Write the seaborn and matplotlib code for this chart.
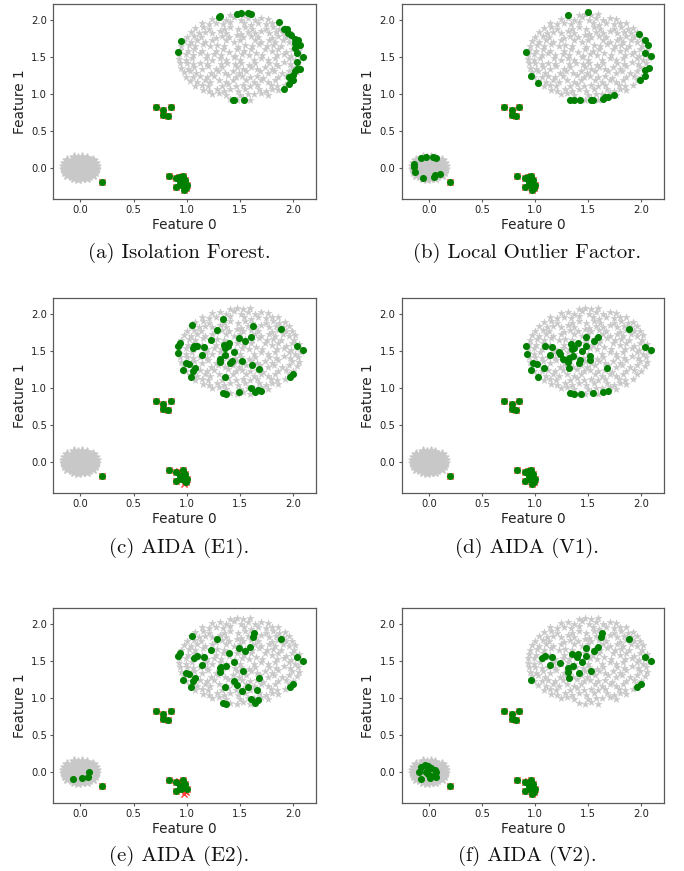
import numpy as np
import pandas as pd
import matplotlib
matplotlib.use("Agg")
import matplotlib.pyplot as plt
import seaborn as sns

# ---------------- data ----------------
# large inlier cluster (grey stars)
grey_big = [
    (1.41, 0.93), (1.47, 0.92), (1.53, 0.94), (1.59, 0.92),
    (1.24, 0.99), (1.30, 1.01), (1.37, 0.98), (1.50, 0.98), (1.57, 1.00), (1.63, 0.99), (1.70, 1.01), (1.76, 0.98),
    (1.15, 1.05), (1.21, 1.03), (1.28, 1.06), (1.35, 1.04), (1.41, 1.06), (1.48, 1.04), (1.55, 1.07), (1.68, 1.06), (1.74, 1.04), (1.80, 1.06), (1.86, 1.05),
    (1.08, 1.11), (1.14, 1.12), (1.20, 1.10), (1.33, 1.10), (1.39, 1.13), (1.46, 1.10), (1.53, 1.12), (1.59, 1.10), (1.66, 1.12), (1.79, 1.12), (1.85, 1.10), (1.92, 1.12),
    (1.03, 1.17), (1.10, 1.16), (1.17, 1.18), (1.22, 1.16), (1.30, 1.18), (1.37, 1.16), (1.43, 1.19), (1.56, 1.18), (1.63, 1.16), (1.70, 1.18), (1.76, 1.16), (1.83, 1.18), (1.96, 1.18),
    (0.99, 1.23), (1.06, 1.22), (1.12, 1.24), (1.19, 1.22), (1.26, 1.24), (1.39, 1.25), (1.46, 1.22), (1.52, 1.24), (1.59, 1.22), (1.66, 1.24), (1.72, 1.21), (1.86, 1.22), (1.93, 1.24), (2.00, 1.23),
    (0.97, 1.29), (1.03, 1.30), (1.09, 1.28), (1.23, 1.28), (1.29, 1.31), (1.36, 1.28), (1.43, 1.30), (1.49, 1.28), (1.56, 1.30), (1.69, 1.31), (1.76, 1.28), (1.82, 1.30), (1.89, 1.28), (1.96, 1.30), (2.03, 1.29),
    (0.95, 1.35), (1.01, 1.34), (1.07, 1.36), (1.14, 1.34), (1.20, 1.37), (1.27, 1.34), (1.33, 1.36), (1.47, 1.36), (1.53, 1.33), (1.60, 1.36), (1.66, 1.34), (1.73, 1.36), (1.80, 1.34), (1.86, 1.37), (1.99, 1.36), (2.05, 1.35),
    (0.94, 1.41), (1.00, 1.42), (1.06, 1.40), (1.12, 1.42), (1.19, 1.40), (1.32, 1.40), (1.38, 1.42), (1.45, 1.40), (1.51, 1.42), (1.58, 1.39), (1.64, 1.42), (1.77, 1.42), (1.84, 1.40), (1.91, 1.43), (1.97, 1.40), (2.04, 1.42),
    (0.93, 1.47), (0.99, 1.46), (1.05, 1.48), (1.18, 1.48), (1.24, 1.45), (1.31, 1.48), (1.37, 1.46), (1.44, 1.49), (1.50, 1.46), (1.63, 1.46), (1.70, 1.48), (1.76, 1.45), (1.83, 1.48), (1.96, 1.48), (2.02, 1.46), (2.07, 1.48),
    (0.93, 1.53), (0.99, 1.54), (1.06, 1.52), (1.12, 1.55), (1.19, 1.52), (1.26, 1.54), (1.32, 1.52), (1.45, 1.51), (1.52, 1.54), (1.58, 1.52), (1.65, 1.55), (1.71, 1.52), (1.85, 1.52), (1.91, 1.54), (1.98, 1.51), (2.04, 1.54),
    (0.94, 1.59), (1.01, 1.58), (1.07, 1.60), (1.14, 1.58), (1.27, 1.58), (1.34, 1.60), (1.40, 1.57), (1.47, 1.60), (1.54, 1.58), (1.60, 1.61), (1.73, 1.60), (1.80, 1.58), (1.86, 1.60), (1.93, 1.57), (1.99, 1.60), (2.05, 1.59),
    (0.95, 1.65), (1.02, 1.66), (1.08, 1.64), (1.15, 1.67), (1.22, 1.64), (1.28, 1.66), (1.35, 1.64), (1.48, 1.63), (1.55, 1.66), (1.61, 1.64), (1.68, 1.67), (1.75, 1.64), (1.81, 1.66), (1.88, 1.64), (2.01, 1.64),
    (0.97, 1.71), (1.04, 1.70), (1.10, 1.72), (1.17, 1.70), (1.24, 1.73), (1.37, 1.72), (1.44, 1.70), (1.50, 1.72), (1.64, 1.72), (1.70, 1.70), (1.77, 1.73), (1.83, 1.70), (1.90, 1.72), (1.96, 1.70), (2.02, 1.71),
    (1.00, 1.77), (1.07, 1.78), (1.13, 1.76), (1.27, 1.75), (1.33, 1.78), (1.40, 1.76), (1.47, 1.79), (1.53, 1.76), (1.60, 1.78), (1.67, 1.76), (1.80, 1.75), (1.86, 1.78), (1.93, 1.76), (1.99, 1.77),
    (1.04, 1.83), (1.11, 1.82), (1.17, 1.84), (1.24, 1.82), (1.31, 1.85), (1.37, 1.82), (1.51, 1.81), (1.57, 1.84), (1.64, 1.82), (1.70, 1.85), (1.77, 1.82), (1.84, 1.84), (1.90, 1.82), (1.96, 1.83),
    (1.08, 1.89), (1.15, 1.90), (1.21, 1.88), (1.35, 1.88), (1.41, 1.90), (1.48, 1.87), (1.55, 1.90), (1.61, 1.88), (1.74, 1.88), (1.81, 1.90), (1.87, 1.88), (1.92, 1.89),
    (1.14, 1.95), (1.21, 1.94), (1.27, 1.96), (1.34, 1.94), (1.41, 1.97), (1.54, 1.96), (1.60, 1.93), (1.67, 1.96), (1.74, 1.94), (1.80, 1.96), (1.86, 1.95),
    (1.24, 2.01), (1.31, 2.02), (1.37, 2.00), (1.44, 2.03), (1.51, 2.00), (1.57, 2.02), (1.64, 2.00), (1.70, 2.02), (1.76, 2.01),
    (1.41, 2.07), (1.47, 2.08), (1.53, 2.06), (1.59, 2.08),
]

# small dense inlier cluster (grey stars)
grey_small = [
    (-0.06, -0.14), (-0.02, -0.15), (0.02, -0.14), (0.06, -0.14),
    (-0.12, -0.10), (-0.08, -0.11), (-0.04, -0.10), (0.00, -0.11), (0.04, -0.10), (0.08, -0.11), (0.12, -0.10),
    (-0.14, -0.06), (-0.10, -0.07), (-0.05, -0.06), (-0.01, -0.07), (0.03, -0.06), (0.07, -0.07), (0.11, -0.06), (0.14, -0.06),
    (-0.15, -0.02), (-0.11, -0.03), (-0.07, -0.02), (-0.03, -0.03), (0.01, -0.02), (0.05, -0.03), (0.09, -0.02), (0.13, -0.03), (0.15, -0.02),
    (-0.15, 0.02), (-0.12, 0.01), (-0.08, 0.02), (-0.04, 0.01), (0.00, 0.02), (0.04, 0.01), (0.08, 0.02), (0.12, 0.01), (0.15, 0.02),
    (-0.14, 0.06), (-0.10, 0.05), (-0.06, 0.06), (-0.02, 0.05), (0.02, 0.06), (0.06, 0.05), (0.10, 0.06), (0.14, 0.06),
    (-0.12, 0.10), (-0.08, 0.09), (-0.04, 0.10), (0.00, 0.09), (0.04, 0.10), (0.08, 0.09), (0.12, 0.10),
    (-0.06, 0.14), (-0.02, 0.13), (0.02, 0.14), (0.06, 0.13),
]

# ground-truth outliers (red x)
outliers = [
    (0.71, 0.82), (0.78, 0.78), (0.85, 0.82), (0.78, 0.71), (0.82, 0.70),   # 0-4
    (0.20, -0.20),                                                         # 5
    (0.83, -0.11), (0.90, -0.14), (0.93, -0.13), (0.96, -0.11),            # 6-9
    (0.94, -0.19), (0.98, -0.17), (0.95, -0.23), (1.00, -0.23),            # 10-13
    (0.90, -0.26), (0.97, -0.30), (0.98, -0.26), (0.99, -0.28),            # 14-17
]

# outliers not flagged by each method
missed = {
    "a": [], "b": [], "c": [8, 15], "d": [], "e": [8, 15, 16, 17], "f": [8],
}

# inliers flagged as anomalous by each method (green dots)
flag_a = [(1.31, 2.05), (1.30, 2.03), (1.47, 2.08), (1.51, 2.09), (1.57, 2.09), (1.60, 2.08),
          (1.87, 1.97), (1.91, 1.88), (1.94, 1.87), (1.95, 1.82), (1.98, 1.79), (2.02, 1.74),
          (2.04, 1.73), (2.02, 1.68), (2.06, 1.66), (2.02, 1.62), (2.03, 1.55), (2.09, 1.50),
          (2.03, 1.43), (2.03, 1.34), (2.06, 1.34), (2.02, 1.30), (2.00, 1.25), (1.96, 1.22),
          (2.00, 1.18), (1.96, 1.13), (1.91, 1.07), (1.54, 0.92), (1.43, 0.91), (1.44, 0.91),
          (0.95, 1.71), (0.92, 1.57)]
flag_b = [(1.31, 2.06), (1.50, 2.10), (1.98, 1.80), (2.03, 1.73), (2.06, 1.66), (2.03, 1.55),
          (2.09, 1.51), (2.03, 1.32), (2.07, 1.35), (2.03, 1.24), (1.99, 1.18), (1.74, 0.98),
          (1.69, 0.95), (1.66, 0.96), (1.64, 0.93), (1.53, 0.92), (1.54, 0.91), (1.42, 0.91),
          (1.37, 0.91), (1.33, 0.92), (1.03, 1.14), (0.96, 1.24), (0.91, 1.57),
          (-0.14, 0.05), (-0.14, 0.01), (-0.13, -0.06), (-0.06, -0.14), (-0.07, 0.13),
          (-0.03, 0.14), (0.04, 0.15), (0.07, 0.13), (0.06, -0.10), (0.10, -0.09), (0.05, -0.12)]
flag_c = [(1.34, 1.93), (1.05, 1.85), (1.28, 1.78), (1.62, 1.83), (1.88, 1.79), (1.23, 1.65),
          (1.49, 1.67), (1.60, 1.68), (1.55, 1.63), (1.35, 1.58), (1.40, 1.60), (1.39, 1.56),
          (1.36, 1.53), (1.44, 1.48), (1.36, 1.44), (1.31, 1.39), (1.31, 1.35), (1.42, 1.36),
          (1.41, 1.33), (1.52, 1.36), (1.61, 1.31), (1.68, 1.25), (1.36, 1.15), (1.49, 0.94),
          (1.34, 0.93), (1.37, 0.92), (1.60, 0.99), (1.64, 0.94), (1.67, 0.97), (1.70, 0.95),
          (0.92, 1.57), (0.94, 1.60), (0.92, 1.47), (1.07, 1.56), (1.10, 1.57), (1.06, 1.53),
          (1.16, 1.55), (1.14, 1.44), (0.99, 1.34), (1.02, 1.32), (0.96, 1.24), (1.08, 1.27),
          (1.06, 1.23), (1.04, 1.14), (2.03, 1.56), (2.09, 1.51), (2.00, 1.18), (1.97, 1.14)]
flag_d = [(1.88, 1.79), (1.59, 1.68), (1.55, 1.63), (1.48, 1.68), (1.48, 1.56), (1.44, 1.49),
          (1.40, 1.60), (1.37, 1.54), (1.34, 1.59), (1.35, 1.52), (1.36, 1.43), (1.32, 1.40),
          (1.31, 1.35), (1.32, 1.26), (1.26, 1.39), (1.22, 1.48), (1.23, 1.45), (1.42, 1.37),
          (1.41, 1.33), (1.52, 1.43), (1.52, 1.37), (1.68, 1.26), (1.09, 1.57), (1.16, 1.55),
          (1.14, 1.44), (0.91, 1.57), (0.92, 1.46), (0.98, 1.34), (1.02, 1.32), (1.08, 1.27),
          (0.96, 1.24), (1.03, 1.14), (2.03, 1.55), (2.09, 1.51), (1.33, 0.93), (1.37, 0.92),
          (1.43, 0.91), (1.54, 0.93), (1.64, 0.94), (1.69, 0.95)]
flag_e = [(1.05, 1.84), (1.28, 1.79), (1.63, 1.88), (1.62, 1.82), (1.88, 1.79), (1.23, 1.65),
          (1.49, 1.67), (1.59, 1.68), (1.55, 1.63), (1.40, 1.60), (1.31, 1.40), (1.32, 1.42),
          (1.31, 1.35), (1.37, 1.43), (1.44, 1.48), (1.53, 1.36), (1.68, 1.26), (1.36, 1.15),
          (1.44, 1.22), (1.47, 1.17), (1.52, 1.09), (1.57, 1.14), (1.66, 1.10), (1.60, 0.98),
          (1.64, 0.93), (1.67, 0.97), (1.34, 0.93), (1.37, 0.92), (0.92, 1.57), (0.94, 1.60),
          (1.07, 1.54), (1.10, 1.56), (1.16, 1.55), (1.14, 1.44), (0.99, 1.34), (1.02, 1.32),
          (0.96, 1.24), (1.08, 1.27), (1.06, 1.23), (1.04, 1.14), (2.03, 1.55), (2.09, 1.50),
          (2.00, 1.18), (1.97, 1.14),
          (-0.07, -0.10), (0.02, -0.09), (0.07, -0.07), (0.08, -0.01)]
flag_f = [(1.63, 1.87), (1.62, 1.82), (1.88, 1.79), (1.59, 1.68), (1.48, 1.67), (1.55, 1.63),
          (1.48, 1.56), (1.40, 1.59), (1.35, 1.59), (1.39, 1.55), (1.44, 1.48), (1.36, 1.43),
          (1.31, 1.40), (1.31, 1.35), (1.41, 1.33), (1.53, 1.36), (1.32, 1.26), (1.23, 1.47),
          (1.16, 1.55), (1.14, 1.44), (1.06, 1.54), (1.09, 1.56), (0.96, 1.24), (2.03, 1.55),
          (2.09, 1.50), (1.96, 1.14), (2.00, 1.18),
          (-0.07, 0.07), (-0.04, 0.09), (-0.01, 0.08), (0.02, 0.05), (0.06, 0.02), (0.07, 0.00),
          (-0.09, 0.00), (-0.03, -0.01), (-0.01, -0.03), (0.02, -0.06), (0.07, -0.07),
          (-0.07, -0.10), (0.01, -0.09)]

flagged = {"a": flag_a, "b": flag_b, "c": flag_c, "d": flag_d, "e": flag_e, "f": flag_f}
captions = {
    "a": "(a) Isolation Forest.",
    "b": "(b) Local Outlier Factor.",
    "c": "(c) AIDA (E1).",
    "d": "(d) AIDA (V1).",
    "e": "(e) AIDA (E2).",
    "f": "(f) AIDA (V2).",
}
ticks = [0.0, 0.5, 1.0, 1.5, 2.0]

# ---------------- style ----------------
sns.set_style("ticks")
plt.rcParams["font.family"] = ["DejaVu Sans"]
plt.rcParams["axes.edgecolor"] = "#5a5a5a"
plt.rcParams["axes.linewidth"] = 0.9
plt.rcParams["xtick.color"] = "#5a5a5a"
plt.rcParams["ytick.color"] = "#5a5a5a"
plt.rcParams["xtick.labelcolor"] = "#222222"
plt.rcParams["ytick.labelcolor"] = "#222222"
plt.rcParams["xtick.major.size"] = 2.5
plt.rcParams["ytick.major.size"] = 2.5

W, H = 684, 871
fig = plt.figure(figsize=(W / 100, H / 100), dpi=100)

col_px = [(53, 316), (401.7, 664)]
row_px = [(4, 199), (298, 493), (608, 803)]
cap_x = [179, 527]
cap_y = [253, 548, 856]

grey_b = pd.DataFrame(grey_big, columns=["x", "y"])
grey_s = pd.DataFrame(grey_small, columns=["x", "y"])
out_df = pd.DataFrame(outliers, columns=["x", "y"])

for i, key in enumerate(["a", "b", "c", "d", "e", "f"]):
    r, c = divmod(i, 2)
    l, rr = col_px[c]
    t, b = row_px[r]
    ax = fig.add_axes([l / W, 1 - b / H, (rr - l) / W, (b - t) / H])

    sns.scatterplot(data=grey_b, x="x", y="y", marker="*", s=28,
                    color="#c8c8c8", edgecolor="#c8c8c8", linewidth=0.3, ax=ax)
    sns.scatterplot(data=grey_s, x="x", y="y", marker="*", s=40,
                    color="#c8c8c8", edgecolor="#c8c8c8", linewidth=1.2, ax=ax)
    sns.scatterplot(data=out_df, x="x", y="y", marker="x", s=20,
                    color="#ff3b3b", linewidth=1.0, ax=ax)
    det = [p for j, p in enumerate(outliers) if j not in missed[key]]
    green = pd.DataFrame(flagged[key] + det, columns=["x", "y"])
    sns.scatterplot(data=green, x="x", y="y", marker="o", s=26,
                    color="green", linewidth=0, ax=ax, zorder=3)

    ax.set_xlim(-0.256, 2.213)
    ax.set_ylim(-0.423, 2.212)
    ax.set_xticks(ticks)
    ax.set_yticks(ticks)
    ax.tick_params(labelsize=7.2, pad=2)
    ax.set_xlabel("Feature 0", fontsize=9.8, color="#222222", labelpad=2)
    ax.set_ylabel("Feature 1", fontsize=9.8, color="#222222", labelpad=3)

    fig.text(cap_x[c] / W, 1 - cap_y[r] / H, captions[key], ha="center",
             va="center", family="cmr10", fontsize=15, color="#111111")

fig.savefig("out.png", dpi=100)
